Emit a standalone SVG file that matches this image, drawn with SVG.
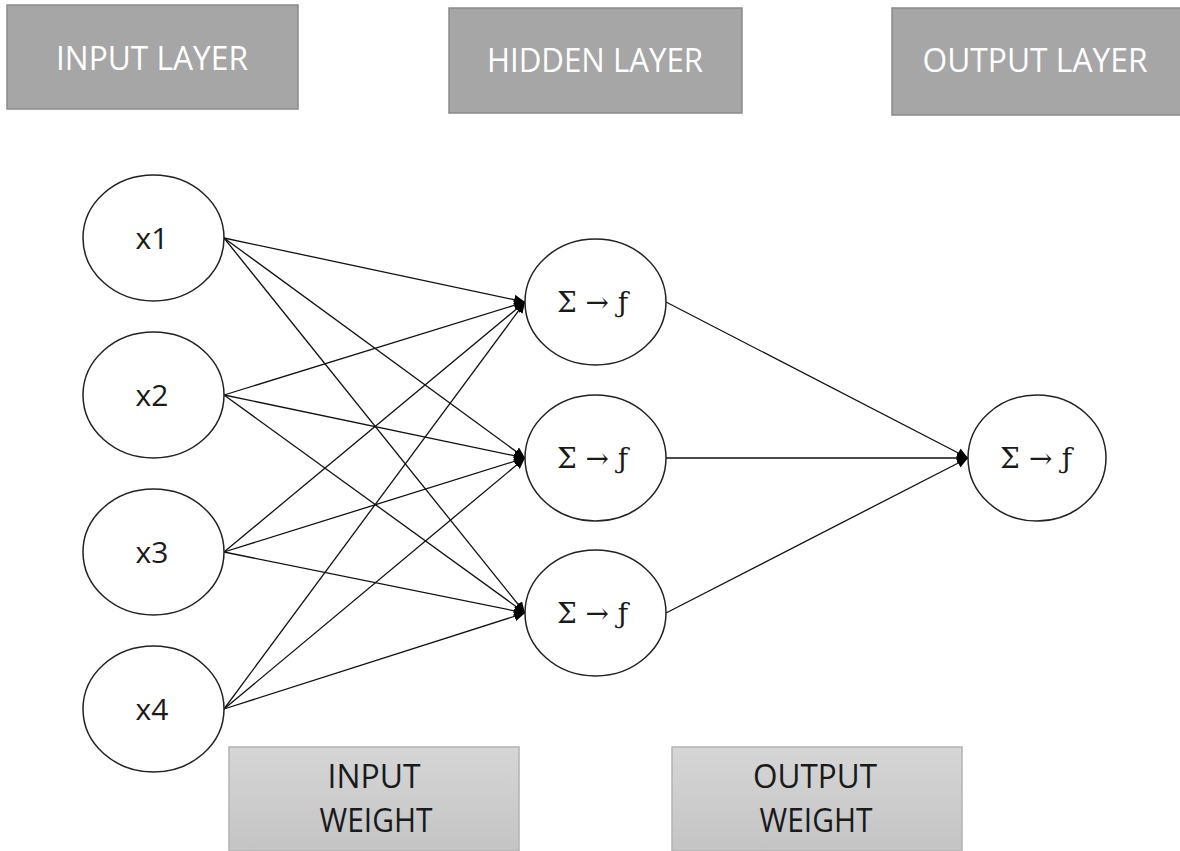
<svg xmlns="http://www.w3.org/2000/svg" width="1180" height="851" viewBox="0 0 1180 851">
<defs>
<style>
.hdr{fill:#a6a6a6;stroke:#8a8a8a;stroke-width:1.5}
.hdrt{fill:#ffffff;font-family:"Open Sans","Liberation Sans",sans-serif;font-size:32px;text-anchor:middle}
.wb{fill:url(#wg);stroke:#b3b3b3;stroke-width:1.5}
.wbt{fill:#1a1a1a;font-family:"Open Sans","Liberation Sans",sans-serif;font-size:32px;text-anchor:middle}
.node{fill:#ffffff;stroke:#222222;stroke-width:1.5}
.nt{fill:#1a1a1a;font-family:"Open Sans","Liberation Sans",sans-serif;font-size:30px;text-anchor:middle}
.ft{fill:#1a1a1a;font-family:"DejaVu Serif","Liberation Serif",serif;font-size:28px;text-anchor:middle}
.edge{stroke:#111111;stroke-width:1.3;fill:none;marker-end:url(#ah)}
</style>
<linearGradient id="wg" x1="0" y1="0" x2="0" y2="1">
<stop offset="0" stop-color="#d6d6d6"/>
<stop offset="1" stop-color="#c4c4c4"/>
</linearGradient>
<marker id="ah" markerUnits="userSpaceOnUse" markerWidth="12" markerHeight="10" refX="11" refY="5" orient="auto">
<path d="M0,0 L11,5 L0,10 Z" fill="#000000"/>
</marker>
</defs>
<rect width="1180" height="851" fill="#ffffff"/>

<g id="hdr-input"><rect class="hdr" x="7" y="5" width="291" height="104"/><text class="hdrt" x="152" y="70" textLength="192" lengthAdjust="spacingAndGlyphs">INPUT LAYER</text></g>
<g id="hdr-hidden"><rect class="hdr" x="449" y="8" width="293" height="105"/><text class="hdrt" x="595" y="72" textLength="216" lengthAdjust="spacingAndGlyphs">HIDDEN LAYER</text></g>
<g id="hdr-output"><rect class="hdr" x="892" y="8" width="290" height="107"/><text class="hdrt" x="1035" y="72" textLength="225" lengthAdjust="spacingAndGlyphs">OUTPUT LAYER</text></g>

<g id="connectors">
<line class="edge" x1="224" y1="238" x2="525" y2="302"/>
<line class="edge" x1="224" y1="238" x2="525" y2="458"/>
<line class="edge" x1="224" y1="238" x2="525" y2="613"/>
<line class="edge" x1="224" y1="395" x2="525" y2="302"/>
<line class="edge" x1="224" y1="395" x2="525" y2="458"/>
<line class="edge" x1="224" y1="395" x2="525" y2="613"/>
<line class="edge" x1="224" y1="552" x2="525" y2="302"/>
<line class="edge" x1="224" y1="552" x2="525" y2="458"/>
<line class="edge" x1="224" y1="552" x2="525" y2="613"/>
<line class="edge" x1="224" y1="709" x2="525" y2="302"/>
<line class="edge" x1="224" y1="709" x2="525" y2="458"/>
<line class="edge" x1="224" y1="709" x2="525" y2="613"/>
<line class="edge" x1="666" y1="302" x2="968" y2="458"/>
<line class="edge" x1="666" y1="458" x2="968" y2="458"/>
<line class="edge" x1="666" y1="613" x2="968" y2="458"/>
</g>

<g id="x1"><ellipse class="node" cx="153.5" cy="238" rx="70.5" ry="63"/><text class="nt" x="152" y="249">x1</text></g>
<g id="x2"><ellipse class="node" cx="153.5" cy="395" rx="70.5" ry="63"/><text class="nt" x="152" y="406">x2</text></g>
<g id="x3"><ellipse class="node" cx="153.5" cy="552" rx="70.5" ry="63"/><text class="nt" x="152" y="563">x3</text></g>
<g id="x4"><ellipse class="node" cx="153.5" cy="709" rx="70.5" ry="63"/><text class="nt" x="152" y="720">x4</text></g>

<g id="h1"><ellipse class="node" cx="595.5" cy="302" rx="70.5" ry="63"/><text class="ft" x="592.5" y="312" textLength="71" lengthAdjust="spacing">Σ → ƒ</text></g>
<g id="h2"><ellipse class="node" cx="595.5" cy="458" rx="70.5" ry="63"/><text class="ft" x="592.5" y="468" textLength="71" lengthAdjust="spacing">Σ → ƒ</text></g>
<g id="h3"><ellipse class="node" cx="595.5" cy="613" rx="70.5" ry="63"/><text class="ft" x="592.5" y="623" textLength="71" lengthAdjust="spacing">Σ → ƒ</text></g>

<g id="out"><ellipse class="node" cx="1037" cy="458" rx="69" ry="63"/><text class="ft" x="1036" y="468" textLength="72" lengthAdjust="spacing">Σ → ƒ</text></g>

<g id="w-input"><rect class="wb" x="229" y="747" width="290" height="104"/><text class="wbt" x="374" y="788" textLength="93" lengthAdjust="spacingAndGlyphs">INPUT</text><text class="wbt" x="376" y="832" textLength="113" lengthAdjust="spacingAndGlyphs">WEIGHT</text></g>
<g id="w-output"><rect class="wb" x="672" y="747" width="290" height="104"/><text class="wbt" x="815" y="788" textLength="124" lengthAdjust="spacingAndGlyphs">OUTPUT</text><text class="wbt" x="816" y="832" textLength="113" lengthAdjust="spacingAndGlyphs">WEIGHT</text></g>
</svg>
